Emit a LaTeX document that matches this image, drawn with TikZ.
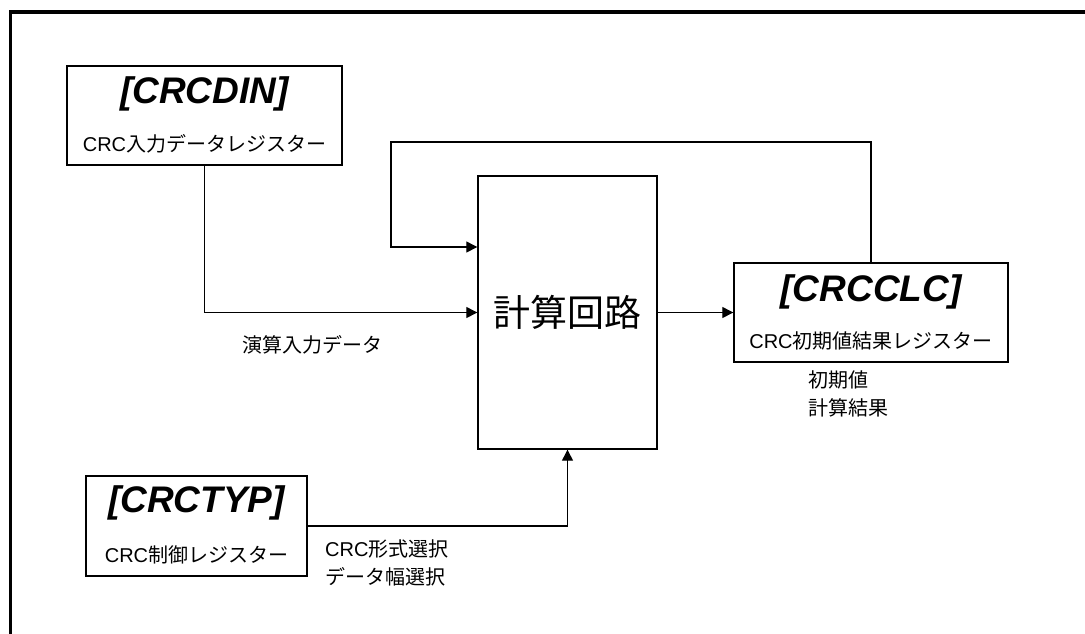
\documentclass[tikz,border=0pt]{standalone}
\usepackage{fontspec}
\setmainfont{Liberation Sans}
\newfontfamily\jp{Noto Sans CJK JP}
\usetikzlibrary{arrows.meta}

\tikzset{
  reg/.style={draw, line width=1.4pt, inner sep=0pt},
  ttl/.style={font=\bfseries\itshape\fontsize{37}{40}\selectfont},
  sub/.style={font=\fontsize{20}{24}\selectfont},
  lbl/.style={font=\jp\fontsize{20}{28}\selectfont, align=left, anchor=west, inner sep=0pt},
  arr/.style={-{Triangle[length=11pt,width=11pt]}, line width=1.3pt},
}

\begin{document}
\begin{tikzpicture}[x=1pt,y=-1pt]
   \useasboundingbox (0,0) rectangle (1085,633);
   \clip (0,0) rectangle (1085,633);
   \draw[line width=3.5pt] (1100,12) -- (10.5,12) -- (10.5,650);

   \node[reg, minimum width=275pt, minimum height=99pt] (din) at (204.5,115.5) {};
   \node[ttl] at ([yshift=22pt]din.center) {[CRCDIN]};
   \node[sub] at ([yshift=-28pt]din.center) {CRC{\jp 入力データレジスター}};

   \node[reg, minimum width=179pt, minimum height=273pt, font=\jp\fontsize{37}{40}\selectfont] (calc) at (567.5,312.5) {計算回路};

   \node[reg, minimum width=274pt, minimum height=99pt] (clc) at (871,312.5) {};
   \node[ttl] at ([yshift=21pt]clc.center) {[CRCCLC]};
   \node[sub] at ([yshift=-28.5pt]clc.center) {CRC{\jp 初期値結果レジスター}};

   \node[reg, minimum width=221pt, minimum height=100pt] (typ) at (196.5,526) {};
   \node[ttl] at ([yshift=23pt]typ.center) {[CRCTYP]};
   \node[sub] at ([yshift=-29pt]typ.center) {CRC{\jp 制御レジスター}};

   \coordinate (fb) at (391,142);
   \draw[arr] (din.south) |- (calc.west);
   \draw[arr] (clc.north) |- (fb) |- ([yshift=65.5pt]calc.west);
   \draw[arr] (calc.east) -- (clc.west);
   \draw[arr] (typ.east) -| (calc.south);

   \node[lbl] at (242,345) {演算入力データ};
   \node[lbl] at (808,394) {初期値\\計算結果};
   \node[lbl] at (325,563) {{\rmfamily CRC}形式選択\\データ幅選択};
\end{tikzpicture}
\end{document}
